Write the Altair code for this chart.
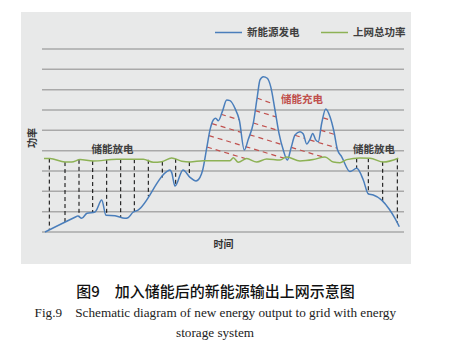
import altair as alt
import pandas as pd

# ---------------- data ----------------
SERIES = ["新能源发电", "上网总功率"]

blue_x = [3, 34, 35.7, 39.7, 45, 53, 55, 59.7, 64, 73, 83, 86, 91, 96, 124.7, 128, 129.7, 133, 141,
          148, 154, 158, 160.7, 164.7, 168, 171.3, 173.7, 176.3, 180.3, 184.7, 188, 193, 197.3, 202.3,
          206.3, 211.3, 215.3, 218, 221.3, 225.3, 228.7, 233, 237, 241.3, 245.3, 249, 253, 258, 261.3,
          264.7, 268, 270.7, 273.7, 276.3, 279.7, 283.7, 288, 292, 295.3, 299.7, 308, 314.7, 321.3,
          326.3, 331.3, 339.7, 347.3, 353, 357.3]
blue_y = [0, 0.75, 0.79, 0.67, 0.92, 0.98, 1.13, 1.57, 0.82, 0.80, 0.67, 0.70, 0.97, 1.08, 2.97, 3.05,
          2.92, 2.26, 3.05, 2.69, 2.51, 2.69, 3.05, 4.12, 5.02, 5.51, 5.59, 5.47, 5.92, 6.49, 6.46, 6.08,
          5.51, 4.03, 4.56, 5.35, 6.66, 7.48, 7.64, 7.56, 7.15, 6.00, 4.85, 4.03, 3.54, 4.12, 4.77, 4.93,
          4.82, 4.33, 4.56, 4.85, 4.53, 4.44, 5.35, 6.05, 5.67, 4.93, 4.07, 3.70, 2.97, 3.13, 2.56, 1.87,
          1.82, 1.57, 1.12, 0.67, 0.26]

green_x = [2, 8, 23, 29.7, 38, 51, 74.7, 101.3, 111.3, 119.7, 129.7, 139.7, 148, 161.3, 188, 191.3,
           196.3, 204.7, 214.7, 224.7, 238, 244.7, 258, 271.3, 283, 291.3, 298, 304.7, 318, 328, 341.3, 356.3]
green_y = [3.61, 3.61, 3.44, 3.44, 3.56, 3.49, 3.58, 3.58, 3.43, 3.46, 3.64, 3.48, 3.44, 3.51, 3.51, 3.65,
           3.43, 3.61, 3.44, 3.59, 3.54, 3.69, 3.49, 3.56, 3.69, 3.44, 3.41, 3.56, 3.64, 3.63, 3.44, 3.63]

# storage discharge (black dashed drops)
drop_x = [7.3, 23, 37, 50.7, 64.7, 78.7, 92.3, 106.3, 120.3, 133.7, 147.3, 314.7, 326.3, 340.7, 355.3]
drop_top = [3.61, 3.44, 3.55, 3.49, 3.55, 3.58, 3.58, 3.55, 3.46, 3.60, 3.44, 3.62, 3.63, 3.45, 3.62]
drop_bottom = [0.10, 0.48, 0.74, 0.96, 0.82, 0.73, 1.0, 1.76, 2.68, 2.35, 2.73, 3.13, 1.87, 1.51, 0.45]

# storage charge (red dashed hatching)
hatch_x1 = [179, 170, 167, 165, 215, 213.3, 211.4, 207.8, 203.5, 281.3, 278.5, 252.9, 267.7, 249.3]
hatch_y1 = [5.79, 5.33, 4.74, 4.18, 6.59, 5.97, 5.36, 4.78, 4.20, 5.61, 5.01, 4.76, 4.53, 4.16]
hatch_x2 = [197.2, 199.3, 201.6, 204, 231.9, 234.2, 236.5, 240, 242, 289, 292.5, 262.8, 295.1, 281]
hatch_y2 = [5.52, 4.90, 4.23, 3.60, 6.29, 5.66, 4.99, 4.30, 3.63, 5.49, 4.80, 4.60, 4.13, 3.69]

grid_levels = [0, 1, 2, 3, 4, 5, 6, 7, 8, 9]

note_text = ["储能放电", "储能放电", "储能充电"]
note_x = [70.5, 332, 260]
note_y = [4.01, 4.01, 6.49]

NB = "\u00a0"
caption_cn = "图9　加入储能后的新能源输出上网示意图"
caption_en1 = "Fig.9" + NB * 4 + "Schematic diagram of new energy output to grid with energy"
caption_en2 = "storage system"

# ---------------- style ----------------
BLUE = "#4a7ebb"
GREEN = "#8db255"
RED = "#c0504d"
CJK = "Noto Sans CJK SC"

xs = alt.Scale(domain=[-21, 369], nice=False, zero=False)
ys = alt.Scale(domain=[-1.574, 10.82], nice=False, zero=False)

x_axis = alt.Axis(title="时间", domain=False, ticks=False, labels=False, grid=False,
                  titleX=202, titleY=-20, titleAlign="center", titleBaseline="middle",
                  titleFont=CJK, titleFontSize=10, titleFontWeight="bold", titleColor="#333333")
y_axis = alt.Axis(title="功率", domain=False, ticks=False, labels=False, grid=False,
                  titleX=11.5, titleY=125.5, titleAngle=270, titleAlign="center", titleBaseline="middle",
                  titleFont=CJK, titleFontSize=10, titleFontWeight="bold", titleColor="#333333")

lines_df = pd.DataFrame({
    "t": blue_x + green_x,
    "p": blue_y + green_y,
    "s": [SERIES[0]] * len(blue_x) + [SERIES[1]] * len(green_x),
    "o": list(range(len(blue_x))) + list(range(len(green_x))),
})
drops_df = pd.DataFrame({"t": drop_x, "top": drop_top, "bottom": drop_bottom})
hatch_df = pd.DataFrame({"x1": hatch_x1, "y1": hatch_y1, "x2": hatch_x2, "y2": hatch_y2})
grid_df = pd.DataFrame({"level": grid_levels})
notes_df = pd.DataFrame({"t": note_x, "p": note_y, "label": note_text,
                         "kind": ["dis", "dis", "chg"]})

grid = alt.Chart(grid_df).mark_rule(color="#a9a9a9", strokeWidth=1.5).encode(
    x=alt.value(21), x2=alt.value(383),
    y=alt.Y("level:Q", scale=ys, axis=y_axis),
)

drops = alt.Chart(drops_df).mark_rule(color="black", strokeWidth=1, strokeDash=[4, 3]).encode(
    x=alt.X("t:Q", scale=xs, axis=x_axis),
    y=alt.Y("top:Q", scale=ys, axis=y_axis),
    y2="bottom:Q",
)

hatch = alt.Chart(hatch_df).mark_rule(color=RED, strokeWidth=1.2, strokeDash=[5, 4]).encode(
    x=alt.X("x1:Q", scale=xs, axis=x_axis),
    y=alt.Y("y1:Q", scale=ys, axis=y_axis),
    x2="x2:Q", y2="y2:Q",
)

lines = alt.Chart(lines_df).mark_line(strokeWidth=1.5, interpolate="monotone").encode(
    x=alt.X("t:Q", scale=xs, axis=x_axis),
    y=alt.Y("p:Q", scale=ys, axis=y_axis),
    order="o:Q",
    color=alt.Color("s:N", scale=alt.Scale(domain=SERIES, range=[BLUE, GREEN]),
                    legend=alt.Legend(title=None, orient="none", legendX=193, legendY=6,
                                      direction="horizontal", symbolType="stroke", symbolSize=729,
                                      symbolStrokeWidth=1.5, labelFont=CJK, labelFontSize=10.5,
                                      labelFontWeight="bold", labelColor="#404040",
                                      columnPadding=18, labelOffset=4, padding=0)),
)

notes_dis = alt.Chart(notes_df).transform_filter(alt.datum.kind == "dis").mark_text(
    font=CJK, fontSize=10.5, fontWeight="bold", color="#404040", baseline="middle", align="center"
).encode(x=alt.X("t:Q", scale=xs, axis=x_axis), y=alt.Y("p:Q", scale=ys, axis=y_axis), text="label:N")

notes_chg = alt.Chart(notes_df).transform_filter(alt.datum.kind == "chg").mark_text(
    font=CJK, fontSize=10.5, fontWeight="bold", color=RED, baseline="middle", align="center"
).encode(x=alt.X("t:Q", scale=xs, axis=x_axis), y=alt.Y("p:Q", scale=ys, axis=y_axis), text="label:N")

cap_cn = alt.Chart(pd.DataFrame({"c": [caption_cn]})).mark_text(
    font=CJK, fontSize=15, fontWeight=500, color="#111111", baseline="middle", align="center"
).encode(x=alt.value(194.5), y=alt.value(279.7), text="c:N")

cap_en1 = alt.Chart(pd.DataFrame({"c": [caption_en1]})).mark_text(
    font="Liberation Serif", fontSize=13.2, color="#222222", baseline="middle", align="center"
).encode(x=alt.value(194.3), y=alt.value(300.7), text="c:N")

cap_en2 = alt.Chart(pd.DataFrame({"c": [caption_en2]})).mark_text(
    font="Liberation Serif", fontSize=13.2, color="#222222", baseline="middle", align="center"
).encode(x=alt.value(194), y=alt.value(320.7), text="c:N")

chart = alt.layer(grid, drops, hatch, lines, notes_dis, notes_chg, cap_cn, cap_en1, cap_en2).properties(
    width=390, height=252,
    padding={"left": 21, "top": 12, "right": 42, "bottom": 89},
    autosize=alt.AutoSizeParams(type="none"),
    background="white",
).configure_view(stroke=None, fill="#e8e9e9")

chart.save("out.html", embed_options={"renderer": "svg", "actions": False})
